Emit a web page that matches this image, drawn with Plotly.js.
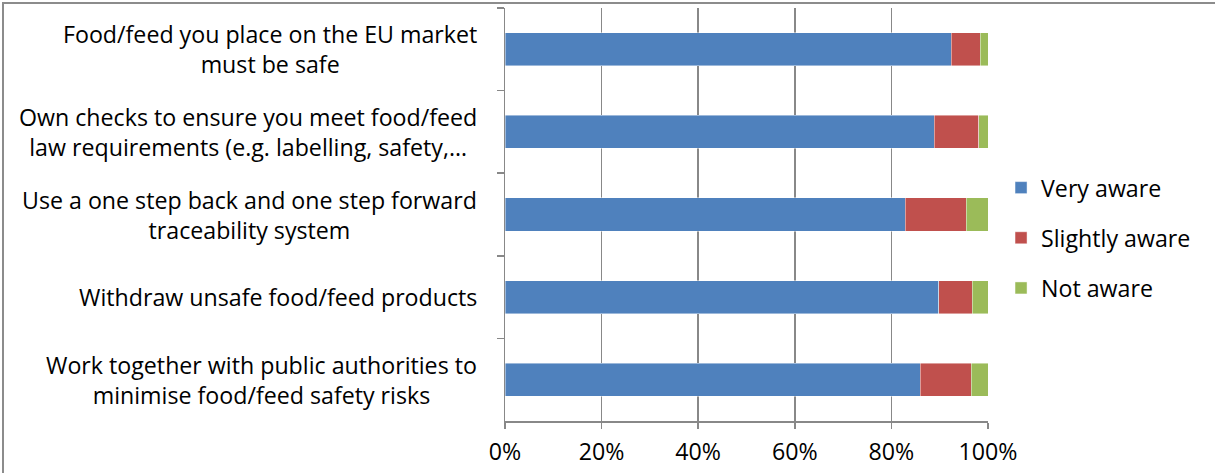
<!DOCTYPE html>
<html><head><meta charset="utf-8">
<script src="https://cdn.plot.ly/plotly-3.0.1.min.js"></script>
<style>
html,body{margin:0;padding:0;background:#fff;overflow:hidden;}
#frame{position:absolute;left:2px;top:2px;width:1240px;height:500px;border:2px solid #8c8c8c;overflow:hidden;}
#chart{position:absolute;left:0;top:0;width:1213px;height:471px;}
</style></head>
<body><div id="frame"><div id="chart"></div></div>
<script>
const categories = ["c1","c2","c3","c4","c5"];
const labelLine1 = ["Food/feed you place on the EU market","Own checks to ensure you meet food/feed","Use a one step back and one step forward","Withdraw unsafe food/feed products","Work together with public authorities to"];
const labelLine2 = ["must be safe","law requirements (e.g. labelling, safety,\u2026","traceability system","","minimise food/feed safety risks"];
const veryAware = [92.4, 88.9, 82.9, 89.8, 86.0];
const slightlyAware = [6.0, 9.2, 12.6, 6.9, 10.5];
const notAware = [1.6, 1.9, 4.5, 3.3, 3.5];
const seriesNames = ["Very aware","Slightly aware","Not aware"];
const colors = ["#4F81BD","#C0504D","#9BBB59"];
const xTicks = [0,20,40,60,80,100];
const xTickText = ["0%","20%","40%","60%","80%","100%"];

const font = "Open Sans, sans-serif";
const fs = 23.2;
const series = [veryAware, slightlyAware, notAware];
const traces = series.map((vals,i)=>({
  type:"bar", orientation:"h", y:categories, x:vals, name:seriesNames[i],
  legendgroup:"g"+i,
  marker:{color:colors[i], line:{color:"rgba(255,255,255,0.55)", width:0.8}},
  hoverinfo:"x+name"
}));

const annotations = categories.map((c,i)=>({
  xref:"paper", yref:"y", x:0, y:c, xanchor:"right", yanchor:"middle", xshift:-26,
  showarrow:false, align:"center",
  text: labelLine2[i] ? labelLine1[i] + "<br>" + labelLine2[i] : labelLine1[i],
  font:{family:font, size:fs, color:"#000"}
}));

const layout = {
  width:1213, height:471,
  margin:{l:501, r:229, t:3.5, b:53.5},
  paper_bgcolor:"#fff", plot_bgcolor:"#fff",
  barmode:"stack", bargap:0.6,
  font:{family:font, size:fs, color:"#000"},
  xaxis:{range:[0,100], tickvals:xTicks, ticktext:xTickText, showgrid:true, gridcolor:"#888", gridwidth:1.5,
    showline:true, linecolor:"#888", linewidth:1.5, ticks:"outside", ticklen:6, tickcolor:"#888", tickwidth:1.5,
    ticklabelstandoff:4,
    zeroline:false, tickfont:{family:font,size:fs,color:"#000"}, fixedrange:true},
  yaxis:{type:"category", autorange:"reversed", showticklabels:false, showgrid:false, showline:true, linecolor:"#888", linewidth:1.5,
    ticks:"outside", tickson:"boundaries", ticklen:7, tickcolor:"#888", tickwidth:1.5, fixedrange:true},
  legend:{x:1.027, y:0.443, xanchor:"left", yanchor:"middle", traceorder:"grouped", tracegroupgap:17,
    font:{family:font,size:fs,color:"#000"}, bgcolor:"rgba(0,0,0,0)"},
  annotations:annotations,
  showlegend:true
};
Plotly.newPlot("chart", traces, layout, {displayModeBar:false, staticPlot:true});
</script></body></html>
